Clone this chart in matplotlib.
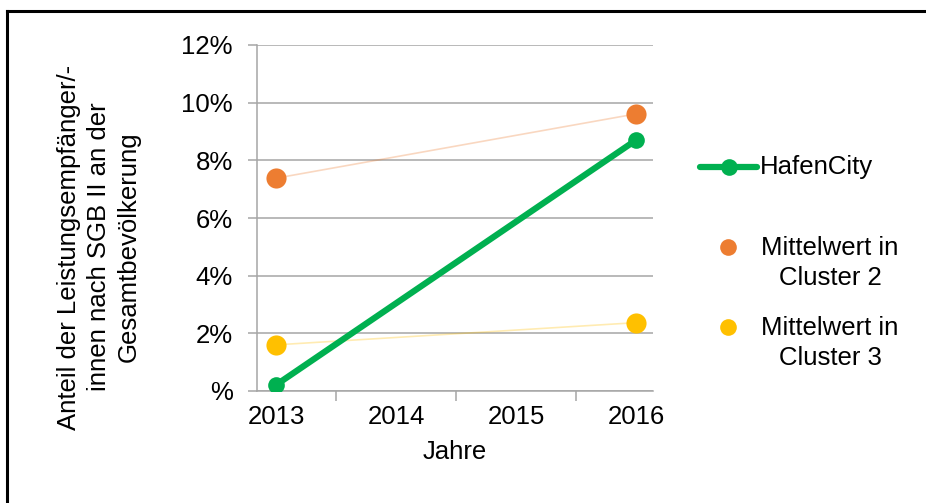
import matplotlib.pyplot as plt
from matplotlib.lines import Line2D
import numpy as np

plt.rcParams['font.family'] = ['Liberation Sans', 'DejaVu Sans']

years = [2013, 2016]
hafencity = [0.21, 8.70]
cluster2 = [7.38, 9.61]
cluster3 = [1.60, 2.37]
year_labels = ['2013', '2014', '2015', '2016']
yticks = [0, 2, 4, 6, 8, 10, 12]
ytick_labels = ['%', '2%', '4%', '6%', '8%', '10%', '12%']

green = '#00B050'
orange = '#ED7D31'
yellow = '#FFC000'
grey = '#A6A6A6'
fs = 18.5

W, H = 926, 503
fig = plt.figure(figsize=(W / 100, H / 100), dpi=100)
ax = fig.add_axes([257 / W, 1 - 391 / H, (653 - 257) / W, (391 - 45) / H])

ax.plot(years, cluster2, '-', color=orange, alpha=0.3, lw=1.2, zorder=2)
ax.plot(years, cluster3, '-', color=yellow, alpha=0.3, lw=1.2, zorder=2)
ax.plot(years, cluster2, 'o', color=orange, ms=14.5, mec='none', zorder=3)
ax.plot(years, cluster3, 'o', color=yellow, ms=14.5, mec='none', zorder=3)
ax.plot(years, hafencity, '-o', color=green, lw=4.5, ms=12, mec='none', zorder=4)

ax.set_xlim(2012.842, 2016.142)
ax.set_ylim(0, 12)
ax.set_xticks([2013, 2014, 2015, 2016])
ax.set_xticklabels(year_labels, fontsize=fs)
ax.set_xticks([2013.5, 2014.5, 2015.5], minor=True)
ax.tick_params(axis='x', which='major', length=0, pad=10)
ax.tick_params(axis='x', which='minor', length=7, width=1.1, color=grey, direction='out')
ax.set_yticks(yticks)
ax.set_yticklabels(ytick_labels, fontsize=fs)
ax.tick_params(axis='y', length=6.5, width=1.1, color=grey, pad=11)
ax.yaxis.grid(True, color=grey, lw=1.1)
ax.set_axisbelow(True)
for s in ['top', 'right']:
    ax.spines[s].set_visible(False)
for s in ['left', 'bottom']:
    ax.spines[s].set_color(grey)
    ax.spines[s].set_linewidth(1.1)
ax.set_xlabel('Jahre', fontsize=fs, labelpad=8)

fig.text(99 / W, 1 - 247 / H,
         'Anteil der Leistungsempfänger/-\ninnen nach SGB II an der\nGesamtbevölkerung',
         rotation=90, ha='center', va='center', multialignment='center',
         fontsize=fs, linespacing=1.3)

# legend drawn by hand
def fx(px):
    return px / W


def fy(py):
    return 1 - py / H


fig.add_artist(Line2D([fx(700), fx(757)], [fy(167), fy(167)], color=green, lw=4.5,
                      solid_capstyle='round'))
fig.add_artist(Line2D([fx(729)], [fy(167)], marker='o', color=green, ms=12, mec='none'))
fig.text(fx(760), fy(167), 'HafenCity', fontsize=fs, ha='left', va='center')
fig.add_artist(Line2D([fx(728)], [fy(247)], marker='o', color=orange, ms=12, mec='none'))
fig.text(fx(830), fy(263), 'Mittelwert in\nCluster 2', fontsize=fs, ha='center', va='center',
         multialignment='center', linespacing=1.3)
fig.add_artist(Line2D([fx(728)], [fy(327)], marker='o', color=yellow, ms=12, mec='none'))
fig.text(fx(830), fy(343), 'Mittelwert in\nCluster 3', fontsize=fs, ha='center', va='center',
         multialignment='center', linespacing=1.3)

# frame lines (top and left)
fig.add_artist(Line2D([fx(7), fx(926)], [fy(11), fy(11)], color='black', lw=2.2))
fig.add_artist(Line2D([fx(7), fx(7)], [fy(11), fy(503)], color='black', lw=2.2))

fig.savefig('out.png', dpi=100)
